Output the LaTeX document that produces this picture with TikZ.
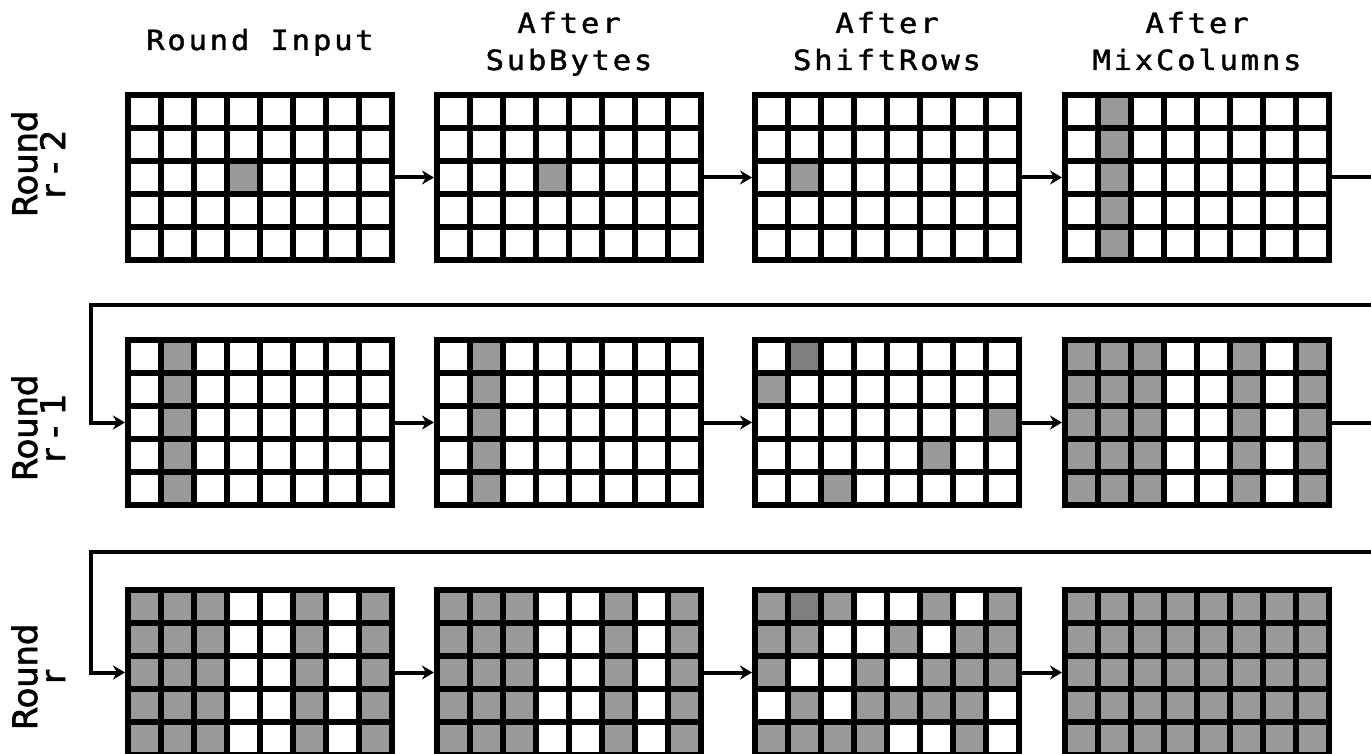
\documentclass[tikz,border=0pt]{standalone}
\usepackage{fontspec}
\usetikzlibrary{arrows.meta}
\newfontfamily\titlefont[FakeStretch=1.1,LetterSpace=10,FakeBold=1.5]{DejaVu Sans Mono}
\newfontfamily\labelfont[FakeBold=2.2]{DejaVu Sans}
\definecolor{cellgray}{HTML}{999999}
\definecolor{celldark}{HTML}{808080}
\tikzset{
  statebox/.style={fill=black,draw=none,inner sep=0pt,outer sep=0pt,anchor=north west,minimum width=135pt,minimum height=85.5pt},
  flow/.style={line width=2pt,-{Stealth[length=6pt,width=7pt]}},
  link/.style={line width=2pt},
  titletext/.style={font=\titlefont\fontsize{13.9pt}{18.5pt}\selectfont,align=center,inner sep=0pt,anchor=base},
  roundlabel/.style={font=\labelfont\fontsize{16.8pt}{14pt}\selectfont,align=center,rotate=90,inner sep=0pt,anchor=base}
}
\newcommand\stategrid[4]{%
  \node[statebox] (#1) at (#2,#3) {};
  \foreach \rw [count=\j from 0] in {#4} {
    \foreach \v [count=\i from 0] in \rw {
      \ifcase\v \def\cc{white}\or \def\cc{cellgray}\or \def\cc{celldark}\fi
      \fill[\cc] ({#2+6+33*\i},{#3+6+33*\j}) rectangle ++(27,27);
    }
  }
}
\begin{document}
\begin{tikzpicture}[x=0.5pt,y=-0.5pt]
\useasboundingbox (0,0) rectangle (1371,754);
\clip (0,0) rectangle (1371,754);
% titles
\node[titletext] (t1) at (260,50) {Round Input};
\node[titletext] (t2) at (569,70) {After\\SubBytes};
\node[titletext] (t3) at (887,70) {After\\ShiftRows};
\node[titletext] (t4) at (1197,70) {After\\MixColumns};
% row labels
\node[roundlabel] (l1) at (65,164) {Round\\r - 2};
\node[roundlabel] (l2) at (65,428) {Round\\r - 1};
\node[roundlabel] (l3) at (65,677) {Round\\r};
% row r-2
\stategrid{g11}{125}{92}{{0,0,0,0,0,0,0,0},{0,0,0,0,0,0,0,0},{0,0,0,1,0,0,0,0},{0,0,0,0,0,0,0,0},{0,0,0,0,0,0,0,0}}
\stategrid{g12}{434}{92}{{0,0,0,0,0,0,0,0},{0,0,0,0,0,0,0,0},{0,0,0,1,0,0,0,0},{0,0,0,0,0,0,0,0},{0,0,0,0,0,0,0,0}}
\stategrid{g13}{752}{92}{{0,0,0,0,0,0,0,0},{0,0,0,0,0,0,0,0},{0,1,0,0,0,0,0,0},{0,0,0,0,0,0,0,0},{0,0,0,0,0,0,0,0}}
\stategrid{g14}{1062}{92}{{0,1,0,0,0,0,0,0},{0,1,0,0,0,0,0,0},{0,1,0,0,0,0,0,0},{0,1,0,0,0,0,0,0},{0,1,0,0,0,0,0,0}}
% row r-1
\stategrid{g21}{125}{337}{{0,1,0,0,0,0,0,0},{0,1,0,0,0,0,0,0},{0,1,0,0,0,0,0,0},{0,1,0,0,0,0,0,0},{0,1,0,0,0,0,0,0}}
\stategrid{g22}{434}{337}{{0,1,0,0,0,0,0,0},{0,1,0,0,0,0,0,0},{0,1,0,0,0,0,0,0},{0,1,0,0,0,0,0,0},{0,1,0,0,0,0,0,0}}
\stategrid{g23}{752}{337}{{0,2,0,0,0,0,0,0},{1,0,0,0,0,0,0,0},{0,0,0,0,0,0,0,1},{0,0,0,0,0,1,0,0},{0,0,1,0,0,0,0,0}}
\stategrid{g24}{1062}{337}{{1,1,1,0,0,1,0,1},{1,1,1,0,0,1,0,1},{1,1,1,0,0,1,0,1},{1,1,1,0,0,1,0,1},{1,1,1,0,0,1,0,1}}
% row r
\stategrid{g31}{125}{587}{{1,1,1,0,0,1,0,1},{1,1,1,0,0,1,0,1},{1,1,1,0,0,1,0,1},{1,1,1,0,0,1,0,1},{1,1,1,0,0,1,0,1}}
\stategrid{g32}{434}{587}{{1,1,1,0,0,1,0,1},{1,1,1,0,0,1,0,1},{1,1,1,0,0,1,0,1},{1,1,1,0,0,1,0,1},{1,1,1,0,0,1,0,1}}
\stategrid{g33}{752}{587}{{1,2,1,0,0,1,0,1},{1,1,0,0,1,0,1,1},{1,0,0,1,0,1,1,1},{0,1,0,1,1,1,1,0},{1,1,1,1,0,0,1,0}}
\stategrid{g34}{1062}{587}{{1,1,1,1,1,1,1,1},{1,1,1,1,1,1,1,1},{1,1,1,1,1,1,1,1},{1,1,1,1,1,1,1,1},{1,1,1,1,1,1,1,1}}
% connectors
\coordinate (e1) at (1371,178);
\coordinate (c2r) at (1371,305);
\coordinate (c2l) at (91,305);
\coordinate (c3r) at (1371,552);
\coordinate (c3l) at (91,552);
\draw[flow] (g11.east) -- (g12.west);
\draw[flow] (g12.east) -- (g13.west);
\draw[flow] (g13.east) -- (g14.west);
\draw[link] (g14.east) -- (g14.east -| e1);
\draw[flow] (c2r) -- (c2l) |- (g21.west);
\draw[flow] (g21.east) -- (g22.west);
\draw[flow] (g22.east) -- (g23.west);
\draw[flow] (g23.east) -- (g24.west);
\draw[link] (g24.east) -- (g24.east -| c2r);
\draw[flow] (c3r) -- (c3l) |- (g31.west);
\draw[flow] (g31.east) -- (g32.west);
\draw[flow] (g32.east) -- (g33.west);
\draw[flow] (g33.east) -- (g34.west);
\end{tikzpicture}
\end{document}
